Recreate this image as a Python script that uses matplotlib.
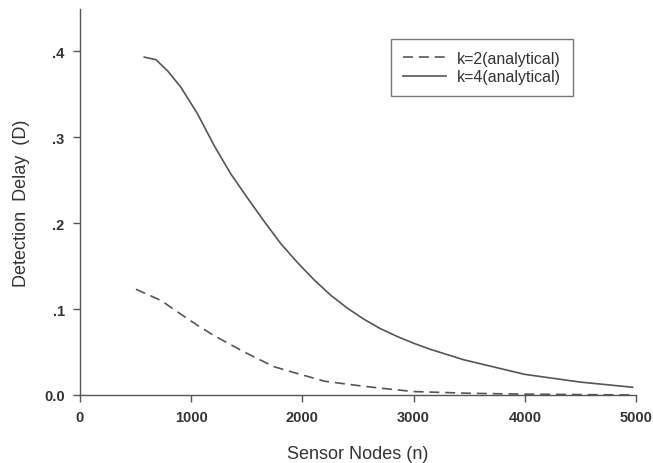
import numpy as np
import matplotlib
matplotlib.use('Agg')
import matplotlib.pyplot as plt

# values
n_k4 = [578, 683, 788, 907, 1057, 1207, 1357, 1507, 1656, 1806, 1956, 2105, 2255, 2405,
        2555, 2704, 2854, 3004, 3154, 3450, 4000, 4500, 4970]
d_k4 = [0.393, 0.390, 0.377, 0.358, 0.327, 0.290, 0.257, 0.229, 0.202, 0.176, 0.154, 0.134, 0.116,
        0.101, 0.088, 0.077, 0.068, 0.060, 0.053, 0.041, 0.024, 0.015, 0.009]

n_k2 = [503, 728, 907, 1057, 1207, 1477, 1743, 1900, 2200, 2500, 2700, 3000, 3500, 4000, 4500, 4970]
d_k2 = [0.123, 0.110, 0.094, 0.081, 0.069, 0.050, 0.033, 0.027, 0.016, 0.011, 0.008, 0.004,
        0.002, 0.001, 0.0005, 0.0]

x_ticks = [0, 1000, 2000, 3000, 4000, 5000]
y_ticks = [0.0, 0.1, 0.2, 0.3, 0.4]
y_tick_labels = ['0.0', '.1', '.2', '.3', '.4']

text_color = '#333333'
line_color = '#555555'

plt.rcParams['font.family'] = ['Liberation Sans', 'DejaVu Sans']

fig = plt.figure(figsize=(6.53, 4.64), dpi=100)
ax = fig.add_axes([80 / 653, 68 / 464, 556 / 653, 386 / 464])

ax.plot(n_k2, d_k2, color=line_color, lw=1.2, dashes=(6, 3.5), label='k=2(analytical)', clip_on=False)
ax.plot(n_k4, d_k4, color=line_color, lw=1.2, label='k=4(analytical)', clip_on=False)

ax.set_xlim(0, 5000)
ax.set_ylim(0, 0.449)
ax.set_xticks(x_ticks)
ax.set_xticklabels([str(t) for t in x_ticks])
ax.set_yticks(y_ticks)
ax.set_yticklabels(y_tick_labels)

for side in ['top', 'right']:
    ax.spines[side].set_visible(False)
for side in ['left', 'bottom']:
    ax.spines[side].set_color(line_color)
    ax.spines[side].set_linewidth(1.0)

ax.tick_params(axis='both', direction='out', length=5, width=1.0, color=line_color,
               labelcolor=text_color, labelsize=10.5, pad=6)
for lab in ax.get_xticklabels() + ax.get_yticklabels():
    lab.set_fontweight('bold')

ax.set_xlabel('Sensor Nodes (n)', fontsize=13, color=text_color, labelpad=15)
ax.set_ylabel('Detection  Delay  (D)', fontsize=13, color=text_color, labelpad=10)

leg = ax.legend(loc='upper right', bbox_to_anchor=(0.887, 0.922), fontsize=11.5,
                frameon=True, fancybox=False, handlelength=2.7, handletextpad=0.7,
                borderpad=0.75, borderaxespad=0, labelspacing=0.2, labelcolor=text_color)
leg.get_frame().set_edgecolor(line_color)
leg.get_frame().set_linewidth(1.0)

fig.savefig('out.png', dpi=100)
